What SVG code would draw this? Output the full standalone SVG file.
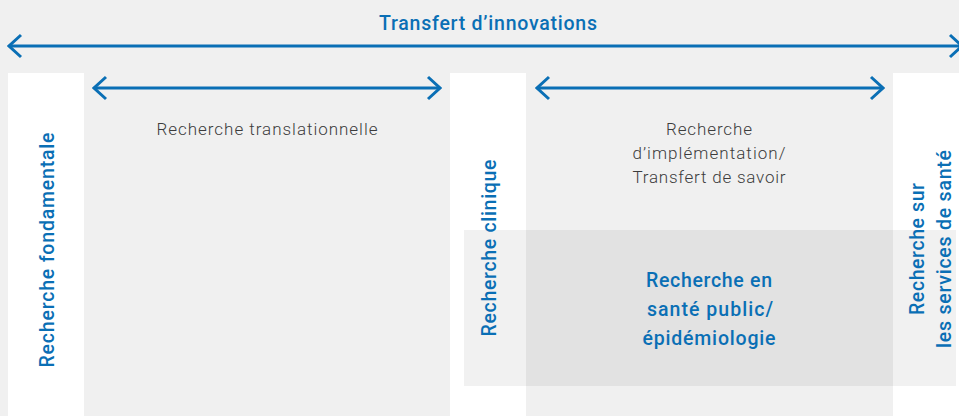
<svg xmlns="http://www.w3.org/2000/svg" width="959" height="416" viewBox="0 0 959 416">
<style>
.blue{fill:#0a6fb5;font-family:Roboto,"Liberation Sans",Arial,sans-serif;font-weight:500;font-size:19.5px}
.grey{fill:#3c3c3c;font-family:Roboto,"Liberation Sans",Arial,sans-serif;font-weight:300;font-size:17px}
.arr{stroke:#0a6fb5;stroke-width:3;fill:none}
</style>
<defs>
<marker id="head" viewBox="0 0 16 26" refX="14" refY="13" markerWidth="16" markerHeight="26" markerUnits="userSpaceOnUse" orient="auto-start-reverse">
<path d="M2,2 L14,13 L2,24" fill="none" stroke="#0a6fb5" stroke-width="3"/>
</marker>
</defs>
<rect x="0" y="0" width="959" height="416" fill="#f0f0f0"/>
<g id="col-fondamentale">
<rect x="8" y="73" width="76" height="343" fill="#ffffff"/>
<text class="blue" transform="translate(54,250) rotate(-90)" text-anchor="middle" textLength="235">Recherche fondamentale</text>
</g>
<g id="col-translationnelle">
<text class="grey" x="267" y="135" text-anchor="middle" textLength="221">Recherche translationnelle</text>
</g>
<g id="col-clinique">
<rect x="450" y="73" width="76" height="343" fill="#ffffff"/>
</g>
<g id="col-implementation">
<text class="grey" x="709" y="135" text-anchor="middle" textLength="86">Recherche</text>
<text class="grey" x="709" y="159" text-anchor="middle" textLength="153">d’implémentation/</text>
<text class="grey" x="709" y="183" text-anchor="middle" textLength="153">Transfert de savoir</text>
</g>
<g id="col-services">
<rect x="893" y="73" width="66" height="343" fill="#ffffff"/>
</g>
<g id="sante-publique">
<rect x="464" y="230" width="492" height="156" fill="#000000" fill-opacity="0.054"/>
<text class="blue" x="709" y="287" text-anchor="middle" textLength="126">Recherche en</text>
<text class="blue" x="710" y="316" text-anchor="middle" textLength="126">santé public/</text>
<text class="blue" x="709" y="345" text-anchor="middle" textLength="133">épidémiologie</text>
</g>
<g id="labels-vertical">
<text class="blue" transform="translate(496,248) rotate(-90)" text-anchor="middle" textLength="177">Recherche clinique</text>
<text class="blue" transform="translate(924,249) rotate(-90)" text-anchor="middle" textLength="132">Recherche sur</text>
<text class="blue" transform="translate(951,249) rotate(-90)" text-anchor="middle" textLength="198">les services de santé</text>
</g>
<g id="title">
<text class="blue" x="488" y="30" text-anchor="middle" textLength="218">Transfert d’innovations</text>
</g>
<g id="connectors">
<line class="arr" x1="9" y1="46" x2="962" y2="46" marker-start="url(#head)" marker-end="url(#head)"/>
<line class="arr" x1="94" y1="88" x2="440" y2="88" marker-start="url(#head)" marker-end="url(#head)"/>
<line class="arr" x1="537" y1="88" x2="883" y2="88" marker-start="url(#head)" marker-end="url(#head)"/>
</g>
</svg>
